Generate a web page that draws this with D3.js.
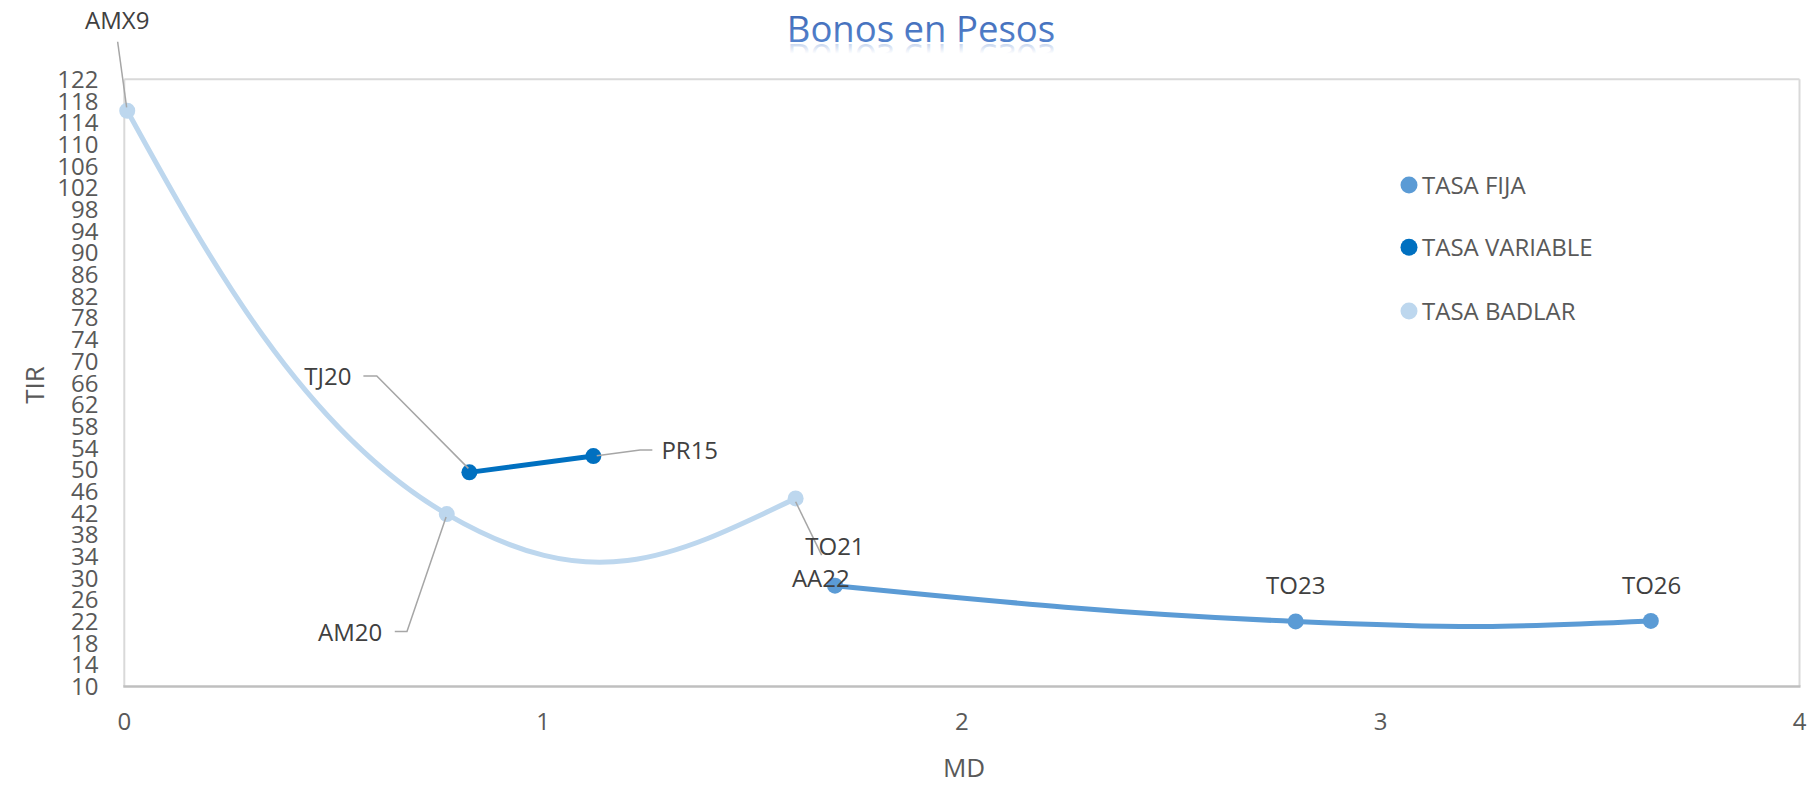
<!DOCTYPE html>
<html>
<head>
<meta charset="utf-8">
<script src="https://cdn.jsdelivr.net/npm/d3@7"></script>
<style>
  body { margin: 0; background: #fff; }
  svg { display: block; font-family: 'Open Sans', sans-serif; }
</style>
</head>
<body>
<svg id="chart"></svg>
<script>
// series data (MD = modified duration, TIR = yield)
var series_names = ['TASA FIJA', 'TASA VARIABLE', 'TASA BADLAR'];

var fija_bonds = ['AA22', 'TO23', 'TO26'];
var fija_md = [1.697, 2.797, 3.645];
var fija_tir = [28.6, 22.0, 22.1];

var variable_bonds = ['TJ20', 'PR15'];
var variable_md = [0.824, 1.120];
var variable_tir = [49.5, 52.5];

var badlar_bonds = ['AMX9', 'AM20', 'TO21'];
var badlar_md = [0.007, 0.770, 1.603];
var badlar_tir = [116.2, 41.8, 44.7];

var x_ticks = [0, 1, 2, 3, 4];
var y_ticks = [10, 14, 18, 22, 26, 30, 34, 38, 42, 46, 50, 54, 58, 62, 66, 70,
  74, 78, 82, 86, 90, 94, 98, 102, 106, 110, 114, 118, 122];

// layout constants
var svg_width = 1818,
  svg_height = 787,
  plot_left = 124.3,
  plot_right = 1799.5,
  plot_top = 79.3,
  plot_bottom = 686.5,
  marker_radius = 8,
  line_width = 5,
  smooth_k = 0.215;

var colors = {
  'TASA FIJA': '#5B9BD5',
  'TASA VARIABLE': '#0070C0',
  'TASA BADLAR': '#BDD7EE'
};

// label placement relative to each point (px), leader polyline relative too
var label_layout = {
  AMX9: { dx: -10, dy: -81.4, leader: [[-9.6, -69], [-0.6, -3.4]] },
  TJ20: { dx: -141.5, dy: -87.3, leader: [[-106, -96.3], [-92.6, -96.3], [-1, -4]] },
  PR15: { dx: 96.4, dy: 3, leader: [[3.4, -0.3], [46.7, -6], [59, -6]] },
  AM20: { dx: -96.7, dy: 127.3, leader: [[-52, 117.3], [-39.8, 117.3], [-0.7, 3]] },
  TO21: { dx: 39.3, dy: 56.7, leader: [[0, 3.4], [26, 56.7]] },
  AA22: { dx: -14.2, dy: 1.6 },
  TO23: { dx: 0.1, dy: -27.7 },
  TO26: { dx: 0.8, dy: -27.2 }
};

function make_points(names, md, tir) {
  return names.map(function(n, i) {
    return { name: n, md: md[i], tir: tir[i] };
  });
}

var all_series = [
  { name: 'TASA BADLAR', points: make_points(badlar_bonds, badlar_md, badlar_tir) },
  { name: 'TASA FIJA', points: make_points(fija_bonds, fija_md, fija_tir) },
  { name: 'TASA VARIABLE', points: make_points(variable_bonds, variable_md, variable_tir) }
];

var svg = d3
  .select('#chart')
  .attr('width', svg_width)
  .attr('height', svg_height);

var x = d3.scaleLinear().domain([0, 4]).range([plot_left, plot_right]);
var y = d3.scaleLinear().domain([10, 122]).range([plot_bottom, plot_top]);

// smoothing close to the spreadsheet look: catmull-rom like tangents,
// end control points aimed at the neighbouring control point
function excel_curve(context) {
  var pts;
  function toward(a, b, len) {
    var dx = b[0] - a[0], dy = b[1] - a[1], d = Math.sqrt(dx * dx + dy * dy) || 1;
    return [a[0] + dx / d * len, a[1] + dy / d * len];
  }
  return {
    areaStart: function() {},
    areaEnd: function() {},
    lineStart: function() { pts = []; },
    point: function(px, py) { pts.push([+px, +py]); },
    lineEnd: function() {
      var n = pts.length, i;
      if (!n) return;
      context.moveTo(pts[0][0], pts[0][1]);
      if (n < 3) {
        for (i = 1; i < n; i++) context.lineTo(pts[i][0], pts[i][1]);
        return;
      }
      var t = [];
      for (i = 1; i < n - 1; i++) {
        t[i] = [smooth_k * (pts[i + 1][0] - pts[i - 1][0]), smooth_k * (pts[i + 1][1] - pts[i - 1][1])];
      }
      for (i = 0; i < n - 1; i++) {
        var a = pts[i], b = pts[i + 1], c1 = null, c2 = null;
        if (i > 0) c1 = [a[0] + t[i][0], a[1] + t[i][1]];
        if (i + 1 < n - 1) c2 = [b[0] - t[i + 1][0], b[1] - t[i + 1][1]];
        if (!c1) c1 = toward(a, c2, Math.hypot(t[i + 1][0], t[i + 1][1]));
        if (!c2) c2 = toward(b, c1, 0.85 * Math.hypot(t[i][0], t[i][1]));
        context.bezierCurveTo(c1[0], c1[1], c2[0], c2[1], b[0], b[1]);
      }
    }
  };
}

var line = d3
  .line()
  .x(function(d) { return x(d.md); })
  .y(function(d) { return y(d.tir); })
  .curve(excel_curve);

// title with a soft reflection
var defs = svg.append('defs');
var title_grad = defs.append('linearGradient')
  .attr('id', 'title-grad').attr('x1', 0).attr('y1', 0).attr('x2', 0).attr('y2', 1);
title_grad.append('stop').attr('offset', '0%').attr('stop-color', '#3A62B0');
title_grad.append('stop').attr('offset', '100%').attr('stop-color', '#5A8AD4');
var fade = defs.append('linearGradient')
  .attr('id', 'title-fade').attr('x1', 0).attr('y1', 0).attr('x2', 0).attr('y2', 1);
fade.append('stop').attr('offset', '0%').attr('stop-color', '#4A78C8').attr('stop-opacity', 0);
fade.append('stop').attr('offset', '58%').attr('stop-color', '#4A78C8').attr('stop-opacity', 0);
fade.append('stop').attr('offset', '84%').attr('stop-color', '#4A78C8').attr('stop-opacity', 0.4);

var title_x = 921, title_y = 41.7;
svg.append('text')
  .attr('x', title_x).attr('y', title_y)
  .attr('text-anchor', 'middle')
  .attr('font-size', 36.5)
  .attr('fill', 'url(#title-grad)')
  .text('Bonos en Pesos');
svg.append('text')
  .attr('x', title_x).attr('y', title_y)
  .attr('transform', 'translate(0,' + (2 * title_y + 2) + ') scale(1,-1)')
  .attr('text-anchor', 'middle')
  .attr('font-size', 36.5)
  .attr('fill', 'url(#title-fade)')
  .text('Bonos en Pesos');

// plot frame
var frame = svg.append('g');
frame.append('line')
  .attr('x1', plot_left).attr('x2', plot_right)
  .attr('y1', plot_top).attr('y2', plot_top)
  .attr('stroke', '#D9D9D9').attr('stroke-width', 2);
frame.append('line')
  .attr('x1', plot_right).attr('x2', plot_right)
  .attr('y1', plot_top).attr('y2', plot_bottom)
  .attr('stroke', '#D9D9D9').attr('stroke-width', 2);
frame.append('line')
  .attr('x1', plot_left).attr('x2', plot_left)
  .attr('y1', plot_top).attr('y2', plot_bottom)
  .attr('stroke', '#D9D9D9').attr('stroke-width', 2);
frame.append('line')
  .attr('x1', plot_left - 1).attr('x2', plot_right + 1)
  .attr('y1', plot_bottom).attr('y2', plot_bottom)
  .attr('stroke', '#BFBFBF').attr('stroke-width', 2.5);

// axis tick labels
svg.append('g')
  .selectAll('text')
  .data(y_ticks)
  .enter()
  .append('text')
  .attr('x', 98.5)
  .attr('y', function(d) { return y(d) + 8.6; })
  .attr('text-anchor', 'end')
  .attr('font-size', 24)
  .attr('fill', '#595959')
  .text(function(d) { return d; });

svg.append('g')
  .selectAll('text')
  .data(x_ticks)
  .enter()
  .append('text')
  .attr('x', function(d) { return x(d); })
  .attr('y', 730)
  .attr('text-anchor', 'middle')
  .attr('font-size', 24)
  .attr('fill', '#595959')
  .text(function(d) { return d; });

// axis titles
svg.append('text')
  .attr('transform', 'translate(44,385) rotate(-90)')
  .attr('text-anchor', 'middle')
  .attr('font-size', 26)
  .attr('fill', '#595959')
  .text('TIR');
svg.append('text')
  .attr('x', 964).attr('y', 777)
  .attr('text-anchor', 'middle')
  .attr('font-size', 26)
  .attr('fill', '#595959')
  .text('MD');

// lines and markers
var series_g = svg.append('g')
  .selectAll('g')
  .data(all_series)
  .enter()
  .append('g');

series_g.append('path')
  .attr('d', function(d) { return line(d.points); })
  .attr('fill', 'none')
  .attr('stroke', function(d) { return colors[d.name]; })
  .attr('stroke-width', line_width)
  .attr('stroke-linecap', 'round');

series_g.selectAll('circle')
  .data(function(d) {
    return d.points.map(function(p) { return { s: d.name, p: p }; });
  })
  .enter()
  .append('circle')
  .attr('cx', function(d) { return x(d.p.md); })
  .attr('cy', function(d) { return y(d.p.tir); })
  .attr('r', marker_radius)
  .attr('fill', function(d) { return colors[d.s]; });

// data labels with leader lines
var all_points = [];
all_series.forEach(function(s) {
  s.points.forEach(function(p) { all_points.push(p); });
});

var leader_line = d3.line();
svg.append('g')
  .selectAll('path')
  .data(all_points.filter(function(p) { return label_layout[p.name].leader; }))
  .enter()
  .append('path')
  .attr('d', function(p) {
    var cx = x(p.md), cy = y(p.tir);
    return leader_line(label_layout[p.name].leader.map(function(o) {
      return [cx + o[0], cy + o[1]];
    }));
  })
  .attr('fill', 'none')
  .attr('stroke', '#A6A6A6')
  .attr('stroke-width', 1.5);

svg.append('g')
  .selectAll('text')
  .data(all_points)
  .enter()
  .append('text')
  .attr('x', function(p) { return x(p.md) + label_layout[p.name].dx; })
  .attr('y', function(p) { return y(p.tir) + label_layout[p.name].dy; })
  .attr('text-anchor', 'middle')
  .attr('font-size', 24)
  .attr('fill', '#404040')
  .text(function(p) { return p.name; });

// legend
var legend_y = [185, 247.3, 311];
var legend = svg.append('g')
  .selectAll('g')
  .data(series_names)
  .enter()
  .append('g')
  .attr('transform', function(d, i) { return 'translate(1409,' + legend_y[i] + ')'; });
legend.append('circle')
  .attr('r', 8.5)
  .attr('fill', function(d) { return colors[d]; });
legend.append('text')
  .attr('x', 13)
  .attr('y', 8.5)
  .attr('font-size', 24)
  .attr('fill', '#595959')
  .text(function(d) { return d; });
</script>
</body>
</html>
